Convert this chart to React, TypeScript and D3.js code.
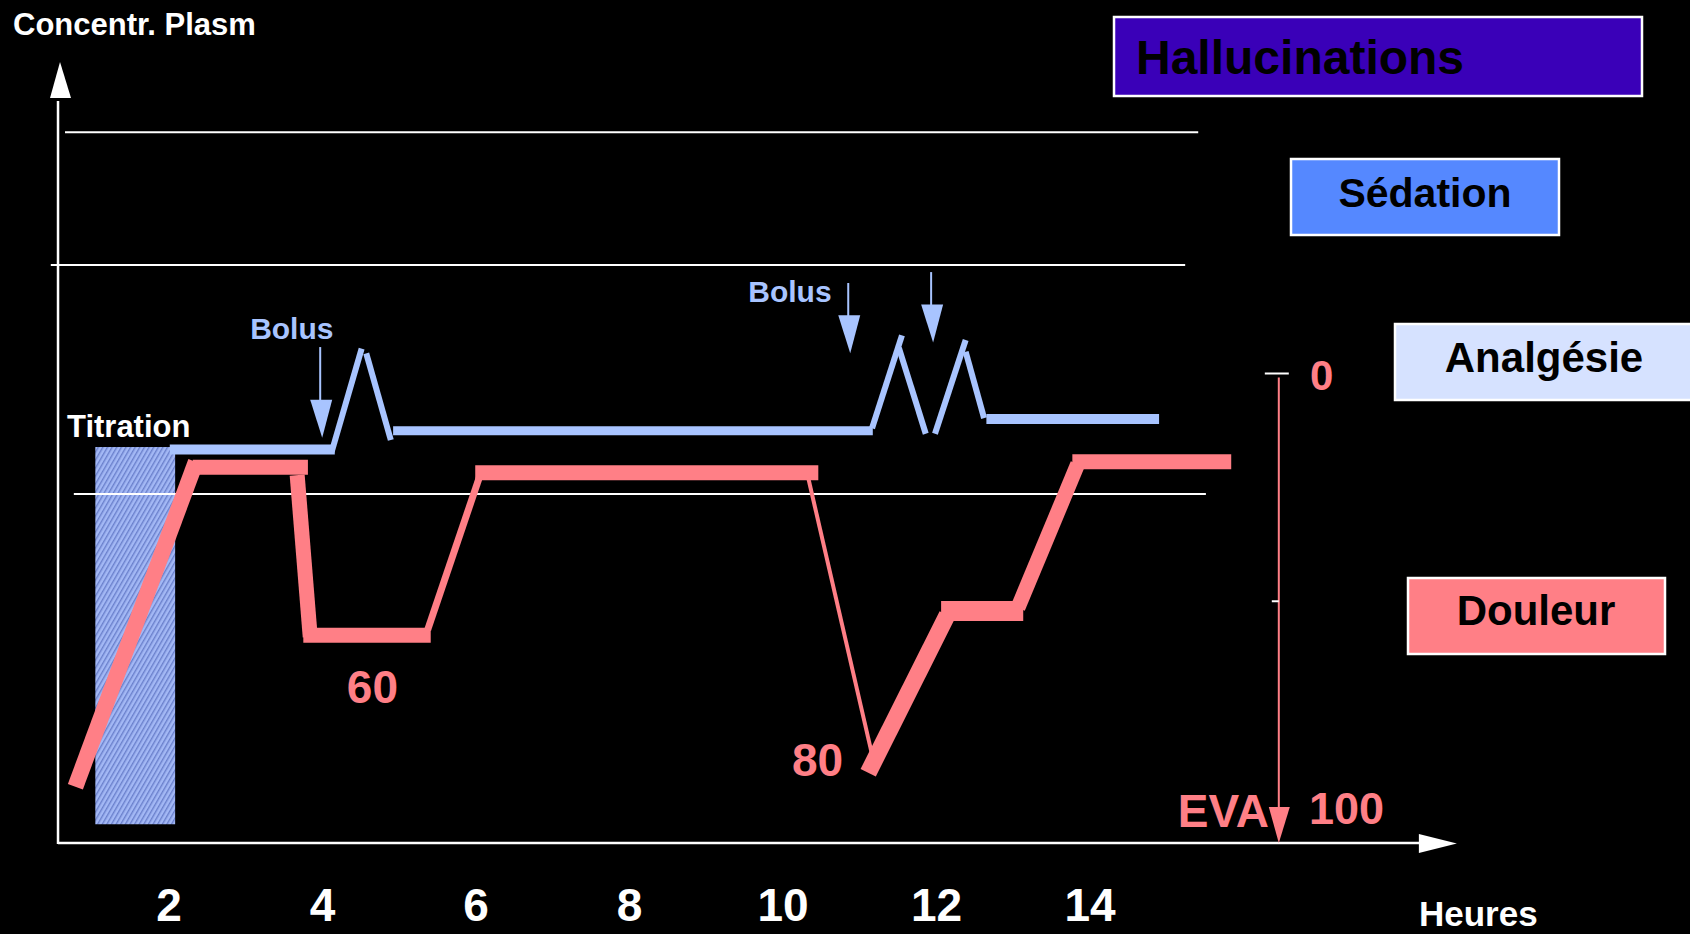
import React from 'react';
import * as d3 from 'd3';

// hours on the x axis
const hourTicks = [2, 4, 6, 8, 10, 12, 14];

// threshold lines (concentration level, start hour, end hour): hallucinations, sedation, analgesia
const thresholdLevels = [91.0, 74.0, 44.7];
const thresholdStart = [0.645, 0.46, 0.76];
const thresholdEnd = [15.41, 15.24, 15.51];

// Douleur (pain) trace, separate strokes [h1, v1, h2, v2]
const douleurSegments: [number, number, number, number][] = [
  [0.78, 7.2, 2.35, 48.8],
  [2.31, 48.1, 3.81, 48.1],
  [3.67, 47.1, 3.84, 26.4],
  [3.75, 26.6, 5.41, 26.6],
  [5.37, 27.3, 6.05, 47.0],
  [5.99, 47.4, 10.46, 47.4],
  [10.33, 46.7, 11.17, 10.9],
  [11.11, 9.0, 12.14, 29.2],
  [12.06, 29.7, 13.13, 29.7],
  [13.06, 30.1, 13.84, 48.5],
  [13.77, 48.8, 15.84, 48.8],
];
const douleurWidths = [16, 15, 15, 15, 7, 15, 4, 17, 20, 15, 15];

// Analgésie (plasma concentration) trace [h1, v1, h2, v2]
const analgesieSegments: [number, number, number, number][] = [
  [2.01, 50.4, 4.16, 50.4],
  [4.12, 50.1, 4.51, 63.3],
  [4.57, 62.7, 4.89, 51.6],
  [4.92, 52.8, 11.17, 52.8],
  [11.16, 53.1, 11.55, 65.0],
  [11.51, 63.4, 11.86, 52.4],
  [11.98, 52.4, 12.38, 64.4],
  [12.38, 62.9, 12.62, 54.4],
  [12.65, 54.3, 14.9, 54.3],
];
const analgesieWidths = [10, 6, 6, 9, 6, 6, 6, 6, 10];

// bolus arrows [hour, top level, tip level]
const bolusArrows: [number, number, number][] = [
  [3.97, 63.5, 51.9],
  [10.85, 71.7, 62.7],
  [11.93, 73.1, 64.1],
];
const bolusLabels: [number, number][] = [
  [3.6, 64.5],
  [10.09, 69.3],
];

// titration period [h0, h1, v0, v1]
const titration = [1.04, 2.08, 2.4, 50.7];

// EVA scale
const evaTicks = [0, 50];
const evaLabels: [string, number, number][] = [
  ['60', 4.65, 17.9],
  ['80', 10.45, 8.6],
];

const legendNames = ['Hallucinations', 'Sédation', 'Analgésie', 'Douleur'];
const legendFills = ['#3A00B8', '#5588FF', '#D6E2FF', '#FF7F86'];

const PINK = '#FF7F86';
const BLUE = '#A8C4FF';
const FONT = '"Liberation Sans", Arial, Helvetica, sans-serif';

export default function App() {
  const W = 1690;
  const H = 934;

  const x = d3.scaleLinear().domain([2, 14]).range([169, 1090]);
  const y = d3.scaleLinear().domain([0, 100]).range([843, 62]);
  const eva = d3.scaleLinear().domain([0, 100]).range([373.5, 829]);

  const axisX = x(0.554);
  const axisEndX = x(18.78);
  const evaX = x(16.46);

  const legendBoxes = [
    { x: 1114, y: 17, w: 528, h: 79, tx: 1136, ty: 74, size: 48, anchor: 'start' },
    { x: 1291, y: 159, w: 268, h: 76, tx: 1425, ty: 207, size: 41, anchor: 'middle' },
    { x: 1395, y: 324, w: 310, h: 76, tx: 1544, ty: 372, size: 42, anchor: 'middle' },
    { x: 1408, y: 578, w: 257, h: 76, tx: 1536, ty: 625, size: 42, anchor: 'middle' },
  ];

  return (
    <div style={{ position: 'absolute', left: 0, top: 0, width: W, height: H, background: '#000' }}>
      <svg width={W} height={H} style={{ display: 'block', fontFamily: FONT }}>
        <defs>
          <pattern id="hatch" width="4" height="4" patternUnits="userSpaceOnUse" patternTransform="rotate(-60)">
            <rect width="4" height="4" fill="#A3B8F5" />
            <rect width="4" height="1.4" fill="#6A80CC" />
          </pattern>
        </defs>
        <rect width={W} height={H} fill="#000" />

        {/* titration area */}
        <rect
          x={x(titration[0])}
          y={y(titration[3])}
          width={x(titration[1]) - x(titration[0])}
          height={y(titration[2]) - y(titration[3])}
          fill="url(#hatch)"
        />

        {/* threshold lines */}
        {thresholdLevels.map((v, i) => (
          <line key={i} x1={x(thresholdStart[i])} x2={x(thresholdEnd[i])} y1={y(v)} y2={y(v)}
            stroke="#fff" strokeWidth={2} />
        ))}

        {/* axes */}
        <line x1={axisX} x2={axisX} y1={y(0) + 1} y2={y(95)} stroke="#fff" strokeWidth={2.5} />
        <polygon points={`${axisX + 2},${y(100)} ${axisX - 8},${y(95.4)} ${axisX + 13},${y(95.4)}`} fill="#fff" />
        <line x1={axisX} x2={axisEndX - 36} y1={y(0)} y2={y(0)} stroke="#fff" strokeWidth={2.5} />
        <polygon points={`${axisEndX},${y(0) + 0.5} ${axisEndX - 38},${y(0) - 9} ${axisEndX - 38},${y(0) + 10}`} fill="#fff" />

        {hourTicks.map(h => (
          <text key={h} x={x(h)} y={921} fill="#fff" fontSize={46} fontWeight="bold" textAnchor="middle">{h}</text>
        ))}

        <text x={13} y={35} fill="#fff" fontSize={31} fontWeight="bold">Concentr. Plasm</text>
        <text x={1419} y={926} fill="#fff" fontSize={35} fontWeight="bold">Heures</text>
        <text x={67} y={437} fill="#fff" fontSize={31} fontWeight="bold">Titration</text>

        {/* analgesie trace */}
        {analgesieSegments.map((s, i) => (
          <line key={i} x1={x(s[0])} y1={y(s[1])} x2={x(s[2])} y2={y(s[3])}
            stroke={BLUE} strokeWidth={analgesieWidths[i]} strokeLinecap="butt" />
        ))}

        {/* douleur trace */}
        {douleurSegments.map((s, i) => (
          <line key={i} x1={x(s[0])} y1={y(s[1])} x2={x(s[2])} y2={y(s[3])}
            stroke={PINK} strokeWidth={douleurWidths[i]} strokeLinecap="butt" />
        ))}

        {/* bolus arrows */}
        {bolusArrows.map((a, i) => {
          const ax = x(a[0]);
          const tip = y(a[2]);
          const headH = 38;
          return (
            <g key={i}>
              <line x1={ax} x2={ax} y1={y(a[1])} y2={tip - headH + 2} stroke={BLUE} strokeWidth={2} />
              <polygon points={`${ax + 2},${tip} ${ax - 10},${tip - headH} ${ax + 12},${tip - headH}`} fill={BLUE} />
            </g>
          );
        })}
        {bolusLabels.map((l, i) => (
          <text key={i} x={x(l[0])} y={y(l[1])} fill={BLUE} fontSize={30} fontWeight="bold" textAnchor="middle">Bolus</text>
        ))}

        {/* EVA labels on the curve */}
        {evaLabels.map(([t, h, v]) => (
          <text key={t} x={x(h)} y={y(v)} fill={PINK} fontSize={46} fontWeight="bold" textAnchor="middle">{t}</text>
        ))}

        {/* EVA scale */}
        <line x1={evaX} x2={evaX} y1={eva(0) + 4} y2={y(0) - 30} stroke={PINK} strokeWidth={2} />
        <polygon points={`${evaX},${y(0)} ${evaX - 10},${y(0) - 36} ${evaX + 11},${y(0) - 36}`} fill={PINK} />
        {evaTicks.map(t => (
          <line key={t} x1={t === 0 ? evaX - 14 : evaX - 7} x2={t === 0 ? evaX + 10 : evaX}
            y1={eva(t)} y2={eva(t)} stroke="#fff" strokeWidth={2} />
        ))}
        <text x={1310} y={390} fill={PINK} fontSize={42} fontWeight="bold">0</text>
        <text x={1309} y={824} fill={PINK} fontSize={45} fontWeight="bold">100</text>
        <text x={1269} y={827} fill={PINK} fontSize={46} fontWeight="bold" textAnchor="end">EVA</text>

        {/* legend boxes */}
        {legendBoxes.map((b, i) => (
          <g key={i}>
            <rect x={b.x} y={b.y} width={b.w} height={b.h} fill={legendFills[i]} stroke="#fff" strokeWidth={2.5} />
            <text x={b.tx} y={b.ty} fontSize={b.size} fontWeight="bold" fill="#000" textAnchor={b.anchor as any}>{legendNames[i]}</text>
          </g>
        ))}
      </svg>
    </div>
  );
}
